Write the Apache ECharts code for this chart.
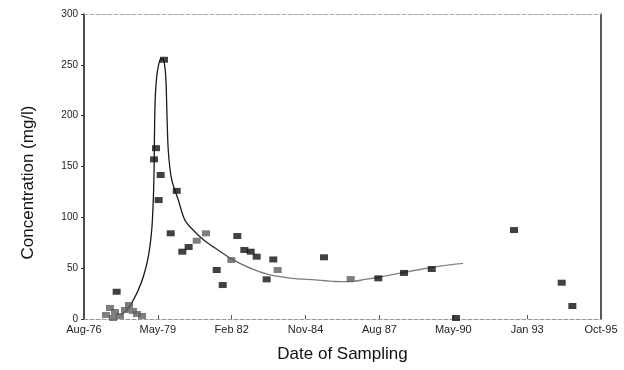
<!DOCTYPE html>
<html>
<head>
<meta charset="utf-8">
<script src="https://cdn.jsdelivr.net/npm/echarts@6/dist/echarts.min.js"></script>
<style>
  html, body { margin: 0; padding: 0; background: #fff; }
  #chart { width: 624px; height: 370px; }
</style>
</head>
<body>
<div id="chart"></div>
<script>
// x values are days counted from Aug-76 (the left end of the axis)
const tickLabels = ['Aug-76', 'May-79', 'Feb 82', 'Nov-84', 'Aug 87', 'May-90', 'Jan 93', 'Oct-95']

// black squares
const darkPoints = [
  [442, 26.8],
  [1083, 255], [975, 168], [948, 157], [1038, 141.6], [1011, 117],
  [1255, 126], [1174, 84.3], [1331, 66.2], [1417, 70.8],
  [1797, 48.2], [1878, 33.4], [2076, 81.6], [2171, 67.9],
  [2257, 66.2], [2338, 61.3], [2563, 58.6], [2473, 39],
  [3250, 60.7], [3985, 40], [4333, 45.3], [4708, 49.2],
  [5037, 1], [5822, 87.5], [6468, 35.7], [6612, 12.8]
]

// grey squares (early cluster and the ones sitting on the curve)
const greyPoints = [
  [298, 3.9], [352, 10.8], [420, 6.9], [487, 3], [555, 8.9],
  [609, 13.8], [663, 7.9], [717, 4.9], [785, 3], [393, 1],
  [1526, 77], [1652, 84.3], [1995, 58], [2622, 48.2], [3611, 39.3]
]

// fitted curve
const curve = [
  [500, 4], [555, 7], [600, 10.8], [668, 18.7], [735, 28.5], [803, 41.6],
  [871, 61.3], [917, 87.5], [938, 117], [948, 143.6], [961, 209],
  [984, 238], [1029, 255], [1066, 256], [1098, 246], [1113, 228],
  [1122, 205], [1141, 166], [1187, 137], [1277, 117], [1368, 97],
  [1503, 85.6], [1638, 76.7], [1774, 69.8], [1977, 60],
  [2248, 50], [2518, 43.3], [2789, 40.3], [3128, 38.4], [3398, 36.9],
  [3602, 36.7], [3805, 38.9], [4008, 41.3], [4279, 45.2], [4549, 48.7],
  [4820, 52.1], [5132, 54.8]
]

const chart = echarts.init(document.getElementById('chart'))

const option = {
  backgroundColor: '#fff',
  animation: false,
  textStyle: { fontFamily: 'Liberation Sans, Arial, sans-serif' },
  grid: { left: 84, right: 23, top: 14, bottom: 51 },
  xAxis: [{
    type: 'value',
    min: 0,
    max: 7000,
    interval: 1000,
    name: 'Date of Sampling',
    nameLocation: 'middle',
    nameGap: 27,
    nameTextStyle: { fontSize: 17, color: '#111' },
    axisLine: { show: true, onZero: false, lineStyle: { color: '#999', type: 'dashed', width: 1 } },
    axisTick: { show: true, inside: true, length: 4, lineStyle: { color: '#555' } },
    axisLabel: {
      fontSize: 11,
      color: '#222',
      margin: 5,
      formatter: v => tickLabels[Math.round(v / 1000)]
    },
    splitLine: { show: false }
  }, {
    type: 'value',
    position: 'top',
    min: 0,
    max: 7000,
    axisLine: { show: true, onZero: false, lineStyle: { color: '#aaa', type: 'dashed', width: 1 } },
    axisTick: { show: false },
    axisLabel: { show: false },
    splitLine: { show: false }
  }],
  yAxis: [{
    type: 'value',
    min: 0,
    max: 300,
    interval: 50,
    name: 'Concentration (mg/l)',
    nameLocation: 'middle',
    nameGap: 47,
    nameTextStyle: { fontSize: 17, color: '#111', padding: [0, 32, 0, 0] },
    axisLine: { show: true, onZero: false, lineStyle: { color: '#111', width: 1.5 } },
    axisTick: { show: true, length: 3, lineStyle: { color: '#333' } },
    axisLabel: { fontSize: 10, color: '#222', margin: 6 },
    splitLine: { show: false }
  }, {
    type: 'value',
    position: 'right',
    min: 0,
    max: 300,
    axisLine: { show: true, onZero: false, lineStyle: { color: '#222', width: 1.5 } },
    axisTick: { show: false },
    axisLabel: { show: false },
    splitLine: { show: false }
  }],
  series: [{
    name: 'curve',
    type: 'line',
    data: curve,
    smooth: 0.3,
    showSymbol: false,
    lineStyle: {
      width: 1.3,
      color: new echarts.graphic.LinearGradient(0, 0, 1, 0, [
        { offset: 0, color: '#111' },
        { offset: 0.25, color: '#222' },
        { offset: 0.4, color: '#777' },
        { offset: 1, color: '#888' }
      ])
    },
    z: 1
  }, {
    name: 'grey',
    type: 'scatter',
    data: greyPoints,
    symbol: 'rect',
    symbolSize: [8, 6],
    itemStyle: { color: '#5e5e5e' },
    z: 2
  }, {
    name: 'dark',
    type: 'scatter',
    data: darkPoints,
    symbol: 'rect',
    symbolSize: [8, 6],
    itemStyle: { color: '#111' },
    z: 3
  }]
}

chart.setOption(option)
</script>
</body>
</html>
